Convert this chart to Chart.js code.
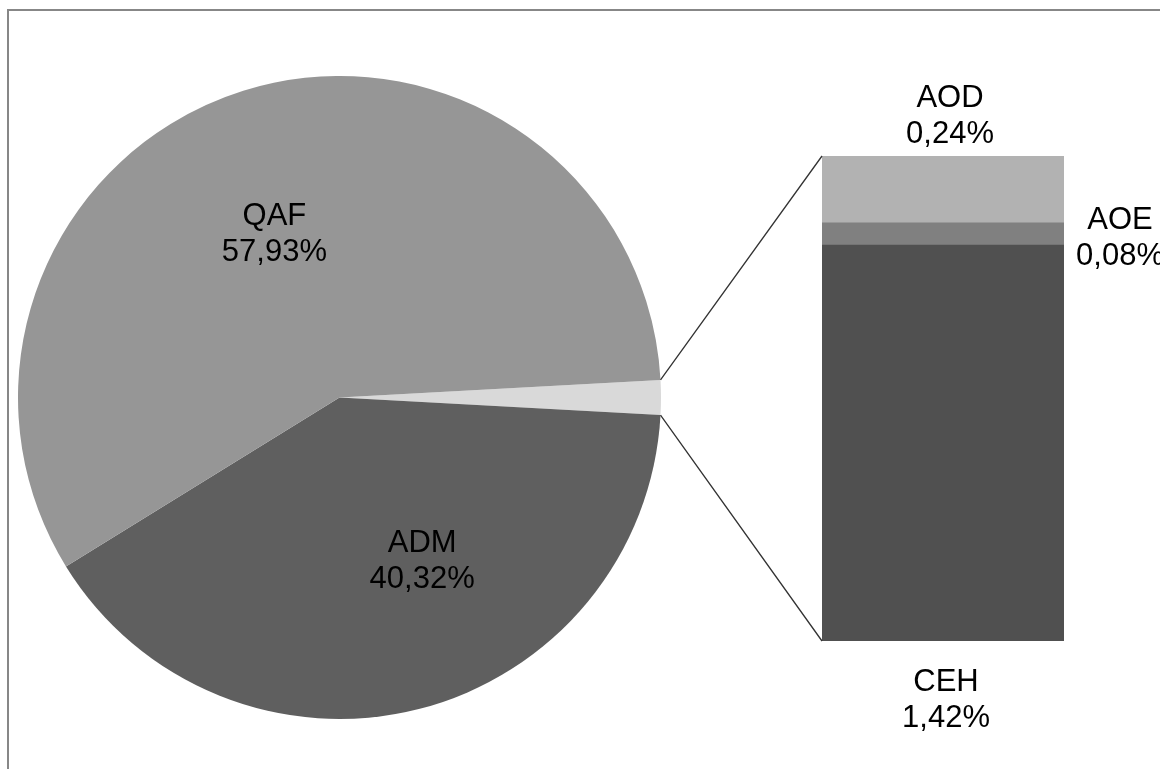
<!DOCTYPE html>
<html>
<head>
<meta charset="utf-8">
<script src="https://cdn.jsdelivr.net/npm/chart.js@4/dist/chart.umd.min.js"></script>
<style>
    html, body { margin: 0; padding: 0; background: #fff; overflow: hidden; }
    #wrap { position: relative; width: 1160px; height: 769px; }
    #frame { position: absolute; left: 7px; top: 9px; width: 1200px; height: 800px; border: 2px solid #878787; }
    canvas { position: absolute; left: 0; top: 0; }
</style>
</head>
<body>
<div id="wrap">
    <div id="frame"></div>
    <canvas id="pieChart" width="1160" height="769"></canvas>
    <canvas id="barChart" width="1160" height="769"></canvas>
</div>
<script>
// Pie part (percent)
const pieLabels = ['ADM', 'QAF'];
const pieValues = [40.32, 57.93];
// Split of the small slice, bottom to top
const barLabels = ['CEH', 'AOE', 'AOD'];
const barValues = [1.42, 0.08, 0.24];

const otherValue = barValues.reduce((a, b) => a + b, 0);
const font = '31px "Liberation Sans", Arial, sans-serif';

const fmt = v => v.toFixed(2).replace('.', ',') + '%';

function drawLabel(ctx, x, y, name, value) {
    // y = middle between both lines
    ctx.save();
    ctx.font = font;
    ctx.fillStyle = '#000';
    ctx.textAlign = 'center';
    ctx.textBaseline = 'alphabetic';
    ctx.fillText(name, x, y - 18 + 11);
    ctx.fillText(fmt(value), x, y + 18 + 11);
    ctx.restore();
}

// pie label shift from the arc's mid point
const pieShift = [null, [43, 6], [-17, -12]];

const pieLabelPlugin = {
    id: 'pieLabels',
    afterDatasetsDraw(chart) {
        const ctx = chart.ctx;
        const meta = chart.getDatasetMeta(0);
        meta.data.forEach((arc, i) => {
            if (i === 0) return;
            const p = arc.tooltipPosition();
            drawLabel(ctx, p.x + pieShift[i][0], p.y + pieShift[i][1], pieLabels[i - 1], pieValues[i - 1]);
        });
    }
};

const half = otherValue / 100 * 360 / 2;

const pieChart = new Chart(document.getElementById('pieChart'), {
    type: 'pie',
    data: {
        labels: ['Other', ...pieLabels],
        datasets: [{
            data: [otherValue, ...pieValues],
            backgroundColor: ['#d9d9d9', '#5f5f5f', '#969696'],
            borderWidth: 0
        }]
    },
    options: {
        responsive: false,
        animation: false,
        events: [],
        devicePixelRatio: 1,
        rotation: 90 - half,
        layout: { padding: { left: 18, top: 76, right: 499, bottom: 50 } },
        plugins: {
            legend: { display: false },
            tooltip: { enabled: false }
        }
    },
    plugins: [pieLabelPlugin]
});

const barLabelPlugin = {
    id: 'barLabels',
    afterDatasetsDraw(chart) {
        const ctx = chart.ctx;
        const ceh = chart.getDatasetMeta(0).data[0];
        const aoe = chart.getDatasetMeta(1).data[0];
        const aod = chart.getDatasetMeta(2).data[0];
        const left = ceh.x - ceh.width / 2;
        const right = ceh.x + ceh.width / 2;
        const top = aod.y;
        const bottom = ceh.base;

        // connector lines from the small slice to the bar
        const arc = pieChart.getDatasetMeta(0).data[0];
        const r = arc.outerRadius;
        ctx.save();
        ctx.strokeStyle = '#333';
        ctx.lineWidth = 1.3;
        ctx.beginPath();
        ctx.moveTo(arc.x + r * Math.cos(arc.startAngle), arc.y + r * Math.sin(arc.startAngle));
        ctx.lineTo(left, top);
        ctx.moveTo(arc.x + r * Math.cos(arc.endAngle), arc.y + r * Math.sin(arc.endAngle));
        ctx.lineTo(left, bottom);
        ctx.stroke();
        ctx.restore();

        drawLabel(ctx, aod.x + 7, top - 42, barLabels[2], barValues[2]);
        drawLabel(ctx, right + 56, (aoe.y + aoe.base) / 2 + 2, barLabels[1], barValues[1]);
        drawLabel(ctx, ceh.x + 3, bottom + 57, barLabels[0], barValues[0]);
    }
};

const barColors = ['#505050', '#808080', '#b2b2b2'];

new Chart(document.getElementById('barChart'), {
    type: 'bar',
    data: {
        labels: [''],
        datasets: barLabels.map((l, i) => ({
            label: l,
            data: [barValues[i]],
            backgroundColor: barColors[i],
            borderWidth: 0,
            barPercentage: 1,
            categoryPercentage: 1
        }))
    },
    options: {
        responsive: false,
        animation: false,
        events: [],
        devicePixelRatio: 1,
        layout: { padding: { left: 822, top: 156, right: 96, bottom: 128 } },
        scales: {
            x: { display: false, stacked: true },
            y: { display: false, stacked: true, min: 0, max: otherValue }
        },
        plugins: {
            legend: { display: false },
            tooltip: { enabled: false }
        }
    },
    plugins: [barLabelPlugin]
});
</script>
</body>
</html>
